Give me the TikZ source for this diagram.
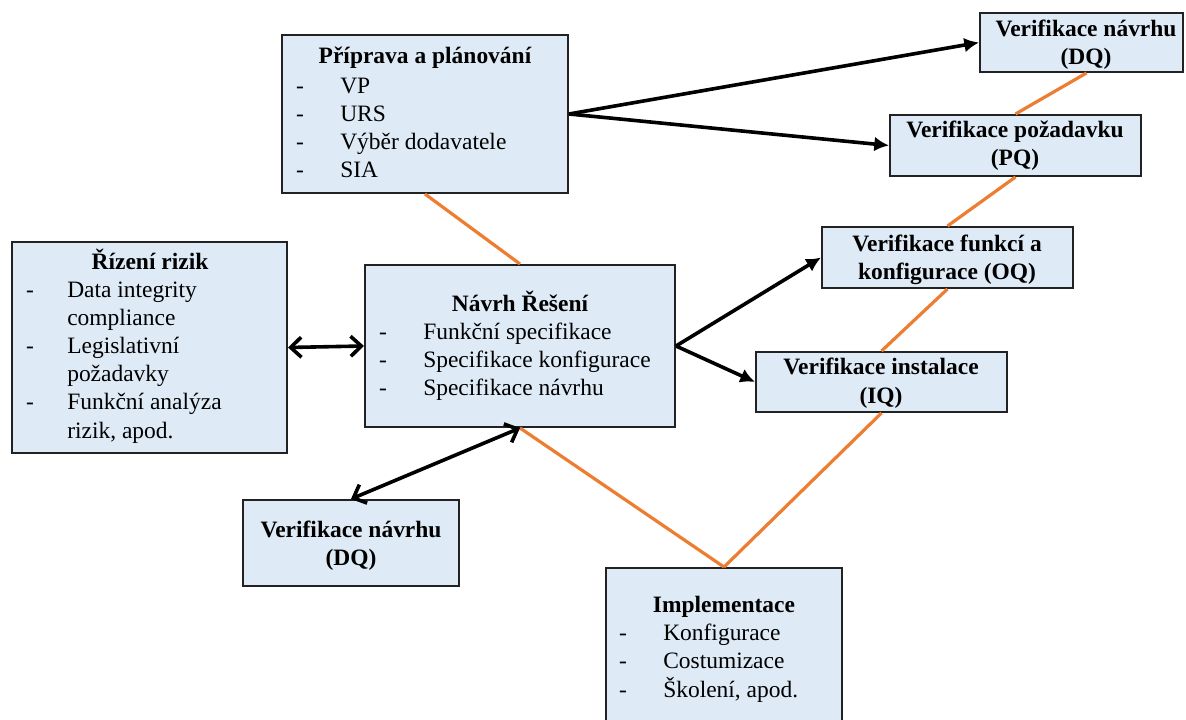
\documentclass[tikz,border=0pt]{standalone}
\usepackage{fontspec}
\setmainfont{Liberation Serif}
\usetikzlibrary{fit,calc,arrows.meta}
\definecolor{boxfill}{HTML}{DEEAF6}
\definecolor{boxline}{HTML}{222222}
\definecolor{orangeline}{HTML}{ED7D31}
\tikzset{
  box/.style={draw=boxline, line width=1.5pt, fill=boxfill, inner sep=0pt},
  txt/.style={inner sep=0pt, anchor=base, font=\fontsize{17.6}{21}\selectfont},
  btxt/.style={txt, font=\fontsize{17.6}{21}\selectfont\bfseries},
  ltxt/.style={txt, anchor=base west},
  arr/.style={line width=2.7pt, -{Latex[length=11pt,width=11pt]}},
  darr/.style={line width=2.7pt, {Straight Barb[length=8pt,width=15pt,line width=2.7pt]}-{Straight Barb[length=8pt,width=15pt,line width=2.7pt]}},
  oline/.style={draw=orangeline, line width=2.4pt}
}
\begin{document}
\begin{tikzpicture}[x=0.75pt,y=-0.75pt]
\useasboundingbox (0,0) rectangle (1186,720);
\clip (0,0) rectangle (1186,720);
\fill[white] (0,0) rectangle (1186,720);

% boxes
\node[box, fit={(282,35) (568,193)}] (prep) {};
\node[box, fit={(980,13) (1183,72)}] (dqt) {};
\node[box, fit={(890,115) (1141,176)}] (pq) {};
\node[box, fit={(822,227) (1073,288)}] (oq) {};
\node[box, fit={(756,352) (1007,412)}] (iq) {};
\node[box, fit={(12,242) (287,453)}] (riz) {};
\node[box, fit={(365,265) (675,427)}] (nav) {};
\node[box, fit={(243,500) (459,586)}] (dqb) {};
\node[box, fit={(606,568) (842,735)}] (imp) {};

% orange connectors
\draw[oline] ($(dqt.south)+(5,0)$) -- (pq.north);
\draw[oline] (prep.south) -- (nav.north);
\draw[oline] (pq.south) -- (oq.north);
\draw[oline] (oq.south) -- (iq.north);
\draw[oline] (iq.south) -- (imp.north);
\draw[oline] (nav.south) -- (imp.north);

% black connectors
\draw[arr] (prep.east) -- (dqt.west);
\draw[arr] (prep.east) -- (pq.west);
\draw[arr] (nav.east) -- (oq.west);
\draw[arr] (nav.east) -- (iq.west);
\draw[darr] (riz.east) -- (nav.west);
\draw[darr] (nav.south) -- (dqb.north);

% Příprava a plánování
\node[btxt] (t1) at (425,64) {Příprava a plánování};
\node[txt] (t1d1) at (300,94) {-};
\node[ltxt] (t1a) at (340,94) {VP};
\node[txt] (t1d2) at (300,122) {-};
\node[ltxt] (t1b) at (340,122) {URS};
\node[txt] (t1d3) at (300,150) {-};
\node[ltxt] (t1c) at (340,150) {Výběr dodavatele};
\node[txt] (t1d4) at (300,178) {-};
\node[ltxt] (t1e) at (340,178) {SIA};

% Verifikace návrhu top
\node[btxt] (t2a) at (1086,37) {Verifikace návrhu};
\node[btxt] (t2b) at (1086,65) {(DQ)};

% PQ
\node[btxt] (t3a) at (1015,138) {Verifikace požadavku};
\node[btxt] (t3b) at (1015,166) {(PQ)};

% OQ
\node[btxt] (t4a) at (947,252) {Verifikace funkcí a};
\node[btxt] (t4b) at (947,280) {konfigurace (OQ)};

% IQ
\node[btxt] (t5a) at (881,375) {Verifikace instalace};
\node[btxt] (t5b) at (881,403) {(IQ)};

% Řízení rizik
\node[btxt] (t6) at (150,270) {Řízení rizik};
\node[txt] (t6d1) at (30,298) {-};
\node[ltxt] (t6a) at (67,298) {Data integrity};
\node[ltxt] (t6b) at (67,326) {compliance};
\node[txt] (t6d2) at (30,354) {-};
\node[ltxt] (t6c) at (67,354) {Legislativní};
\node[ltxt] (t6e) at (67,382) {požadavky};
\node[txt] (t6d3) at (30,410) {-};
\node[ltxt] (t6f) at (67,410) {Funkční analýza};
\node[ltxt] (t6g) at (67,438) {rizik, apod.};

% Návrh Řešení
\node[btxt] (t7) at (520,312) {Návrh Řešení};
\node[txt] (t7d1) at (383,340) {-};
\node[ltxt] (t7a) at (423,340) {Funkční specifikace};
\node[txt] (t7d2) at (383,368) {-};
\node[ltxt] (t7b) at (423,368) {Specifikace konfigurace};
\node[txt] (t7d3) at (383,396) {-};
\node[ltxt] (t7c) at (423,396) {Specifikace návrhu};

% DQ bottom
\node[btxt] (t8a) at (351,537) {Verifikace návrhu};
\node[btxt] (t8b) at (351,565) {(DQ)};

% Implementace
\node[btxt] (t9) at (724,612) {Implementace};
\node[txt] (t9d1) at (623,640) {-};
\node[ltxt] (t9a) at (663,640) {Konfigurace};
\node[txt] (t9d2) at (623,668) {-};
\node[ltxt] (t9b) at (663,668) {Costumizace};
\node[txt] (t9d3) at (623,697) {-};
\node[ltxt] (t9c) at (663,697) {Školení, apod.};
\end{tikzpicture}
\end{document}
